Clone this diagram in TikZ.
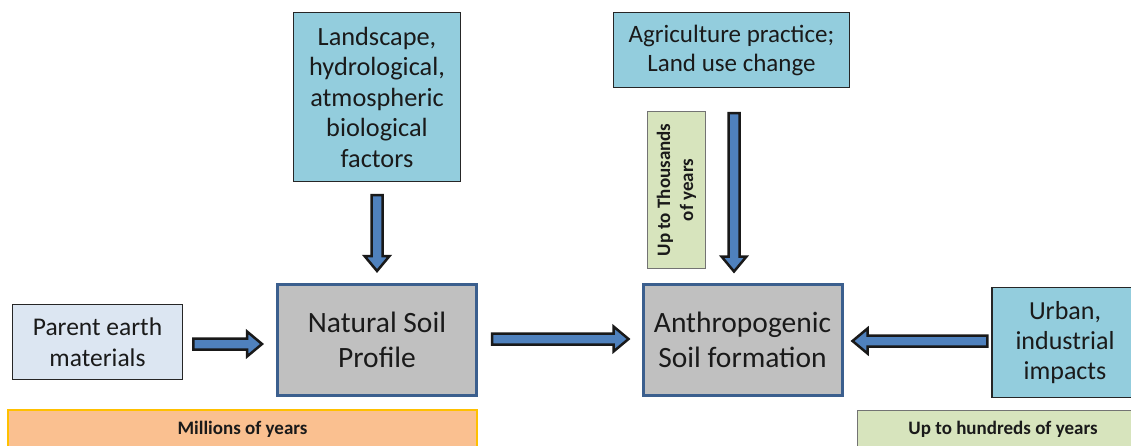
\documentclass[tikz,border=0pt]{standalone}
\usepackage{fontspec}
\setmainfont{Carlito}
\usetikzlibrary{calc}
\definecolor{boxblue}{HTML}{93CDDD}
\definecolor{parentfill}{HTML}{DCE6F2}
\definecolor{soilgrey}{HTML}{C0C0C0}
\definecolor{soilborder}{HTML}{3B5F8E}
\definecolor{arrowblue}{HTML}{4F81BD}
\definecolor{orangefill}{HTML}{FAC090}
\definecolor{orangeborder}{HTML}{FFC000}
\definecolor{greenfill}{HTML}{D7E4BD}
\definecolor{txt}{HTML}{1A1A1A}
\tikzset{
  base/.style={rectangle, align=center, inner sep=0pt, text=txt},
  factor/.style={base, fill=boxblue, draw=black!85, line width=1.2pt},
  parentbox/.style={base, fill=parentfill, draw=black!85, line width=1.5pt},
  soil/.style={base, fill=soilgrey, draw=soilborder, line width=3pt},
  timeorange/.style={base, fill=orangefill, draw=orangeborder, line width=1.2pt},
  timegreen/.style={base, fill=greenfill, draw=black!55, line width=1pt},
  barrow/.style={fill=arrowblue, draw=black!90, line width=2.5pt, line join=miter},
  bigtxt/.style={font=\fontsize{29.5}{35}\selectfont},
  midtxt/.style={font=\fontsize{26.3}{30.5}\selectfont},
  smalltxt/.style={font=\fontsize{19}{23}\selectfont\bfseries},
}
\newcommand\blockarrow[2]{%
  \coordinate (hb) at ($(#2)!15pt!(#1)$);
  \filldraw[barrow] ($(#1)!5.5pt!90:(#2)$) -- ($(hb)!5.5pt!90:(#2)$) -- ($(hb)!12.5pt!90:(#2)$) -- (#2) -- ($(hb)!12.5pt!-90:(#2)$) -- ($(hb)!5.5pt!-90:(#2)$) -- ($(#1)!5.5pt!-90:(#2)$) -- cycle;
}
\begin{document}
\begin{tikzpicture}[x=1pt, y=-1pt]
\useasboundingbox (0,0) rectangle (1131,446);
% boxes
\node[parentbox, minimum width=170pt, minimum height=75pt, font=\fontsize{25.5}{30.5}\selectfont] (parent) at (97.5,342) {Parent earth\\materials};
\node[soil, bigtxt, minimum width=199pt, minimum height=111pt] (nat) at (377,340) {Natural Soil\\Profile};
\node[soil, bigtxt, minimum width=199pt, minimum height=111pt] (anthro) at (742.5,339.5) {Anthropogenic\\Soil formation};
\node[factor, minimum width=146pt, minimum height=110pt, font=\fontsize{26}{30}\selectfont] (urban) at (1065,342.5) {Urban,\\industrial\\impacts};
\node[factor, midtxt, minimum width=167pt, minimum height=169pt] (land) at (377,97) {Landscape,\\hydrological,\\atmospheric\\biological\\factors};
\node[factor, minimum width=236pt, minimum height=75pt, font=\fontsize{25}{29}\selectfont] (agri) at (731.5,50) {Agriculture practice;\\Land use change};
\node[timegreen, smalltxt, rotate=90, minimum width=157pt, minimum height=58pt] (thou) at (676.5,190) {Up to Thousands\\of years};
\node[timeorange, smalltxt, minimum width=469pt, minimum height=38pt] (mill) at (242.5,429) {Millions of years};
\node[timegreen, smalltxt, minimum width=292pt, minimum height=38pt] (hund) at (1003,429) {Up to hundreds of years};
% arrow ends
\coordinate (a1s) at ($(parent.east)+(10,2)$);
\coordinate (a1e) at ($(nat.west)+(-14,4)$);
\coordinate (a2s) at ($(nat.east)+(14,-1)$);
\coordinate (a2e) at ($(anthro.west)+(-13,-0.5)$);
\coordinate (a3s) at ($(urban.west)+(-4,-1.5)$);
\coordinate (a3e) at ($(anthro.east)+(9,1.5)$);
\coordinate (a4s) at ($(land.south)+(0,13)$);
\coordinate (a4e) at ($(nat.north)+(0,-12)$);
\coordinate (a5s) at ($(agri.south)+(2.5,25)$);
\coordinate (a5e) at ($(anthro.north)+(-8.5,-11)$);
\blockarrow{a1s}{a1e}
\blockarrow{a2s}{a2e}
\blockarrow{a3s}{a3e}
\blockarrow{a4s}{a4e}
\blockarrow{a5s}{a5e}
\end{tikzpicture}
\end{document}
